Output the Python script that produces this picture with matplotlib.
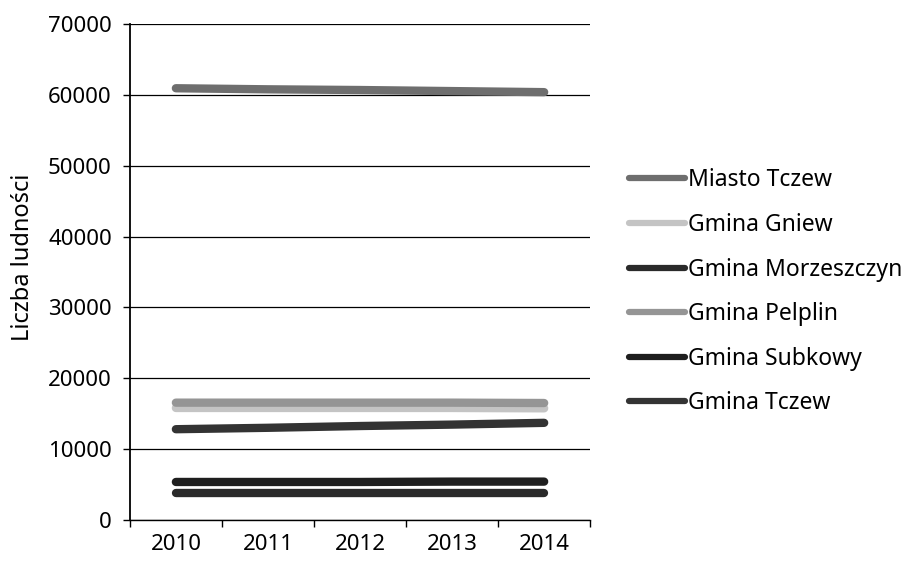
import matplotlib.pyplot as plt
import numpy as np

years = ['2010', '2011', '2012', '2013', '2014']
miasto_tczew = [60950, 60800, 60700, 60550, 60400]
gmina_gniew = [15800, 15800, 15800, 15800, 15750]
gmina_morzeszczyn = [3800, 3800, 3800, 3800, 3800]
gmina_pelplin = [16550, 16550, 16550, 16550, 16500]
gmina_subkowy = [5350, 5350, 5350, 5400, 5400]
gmina_tczew = [12800, 13000, 13250, 13450, 13700]

series = [
    ('Miasto Tczew', miasto_tczew, '#6e6e6e'),
    ('Gmina Gniew', gmina_gniew, '#c4c4c4'),
    ('Gmina Morzeszczyn', gmina_morzeszczyn, '#2a2a2a'),
    ('Gmina Pelplin', gmina_pelplin, '#959595'),
    ('Gmina Subkowy', gmina_subkowy, '#1e1e1e'),
    ('Gmina Tczew', gmina_tczew, '#333333'),
]

plt.rcParams['font.family'] = ['Noto Sans', 'DejaVu Sans']

fig = plt.figure(figsize=(9.08, 5.62), dpi=100)
ax = fig.add_axes([0.143, 0.075, 0.507, 0.882])

x = np.arange(len(years))
for name, vals, col in series:
    ax.plot(x, vals, color=col, linewidth=6, solid_capstyle='round', label=name)

ax.set_xlim(-0.5, 4.5)
ax.set_ylim(0, 70000)
ax.set_yticks(range(0, 70001, 10000))
ax.set_xticks(x)
ax.set_xticklabels(years)
ax.set_xticks(np.arange(-0.5, 4.6, 1), minor=True)
ax.tick_params(axis='x', which='major', length=0, pad=10, labelsize=16)
ax.tick_params(axis='x', which='minor', length=5, direction='out', width=1)
ax.tick_params(axis='y', length=5, width=1, labelsize=16, pad=8)

ax.yaxis.grid(True, color='black', linewidth=0.9)
ax.set_axisbelow(True)
for s in ['top', 'right']:
    ax.spines[s].set_visible(False)
ax.spines['left'].set_linewidth(1.3)
ax.spines['bottom'].set_linewidth(1)

ax.set_ylabel('Liczba ludności', fontsize=17)
ax.yaxis.set_label_coords(-0.205, 0.53)

ax.legend(loc='center left', bbox_to_anchor=(1.04, 0.46), frameon=False,
          fontsize=16.5, handlelength=2.45, handletextpad=0.1, labelspacing=0.9)
for h in ax.get_legend().get_lines():
    h.set_linewidth(4.5)

fig.savefig('out.png', dpi=100)
